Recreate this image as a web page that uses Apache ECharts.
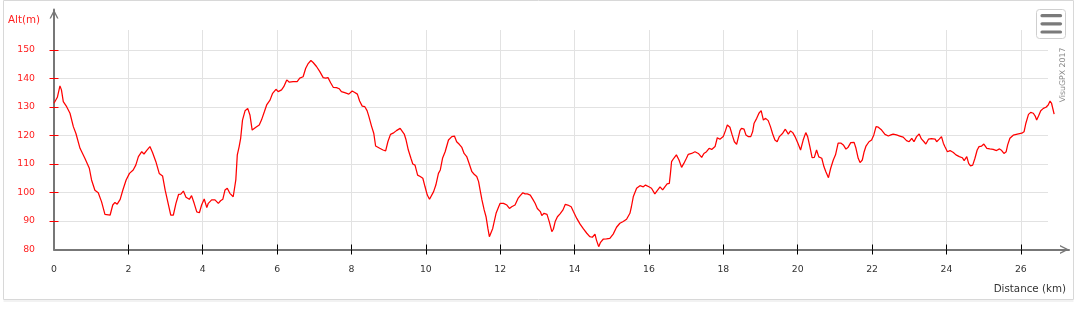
<!DOCTYPE html>
<html><head><meta charset="utf-8">
<script src="https://cdn.jsdelivr.net/npm/echarts@6/dist/echarts.min.js"></script>
<style>html,body{margin:0;padding:0;background:#fff}#c{width:1083px;height:309px}</style>
</head><body><div id="c"></div>
<script>
const distKm = [0,0.05,0.09,0.16,0.2,0.25,0.34,0.43,0.52,0.59,0.7,0.83,0.95,1.01,1.1,1.19,1.28,1.37,1.51,1.58,1.64,1.7,1.78,1.85,1.94,2.03,2.13,2.2,2.27,2.36,2.42,2.49,2.58,2.65,2.74,2.83,2.92,2.99,3.08,3.14,3.21,3.28,3.35,3.41,3.48,3.55,3.64,3.7,3.77,3.84,3.91,3.97,4.04,4.11,4.15,4.24,4.33,4.42,4.48,4.54,4.6,4.66,4.73,4.82,4.85,4.89,4.93,4.98,5.02,5.07,5.14,5.21,5.27,5.33,5.38,5.43,5.52,5.58,5.66,5.72,5.81,5.88,5.97,6.03,6.12,6.18,6.26,6.33,6.43,6.54,6.61,6.7,6.77,6.83,6.91,6.97,7.06,7.15,7.24,7.31,7.37,7.44,7.51,7.6,7.67,7.73,7.82,7.93,8.02,8.09,8.16,8.22,8.29,8.36,8.42,8.47,8.54,8.6,8.65,8.76,8.85,8.92,8.98,9.05,9.12,9.21,9.31,9.35,9.42,9.47,9.53,9.6,9.65,9.71,9.78,9.85,9.92,9.98,10.04,10.1,10.15,10.21,10.27,10.34,10.39,10.45,10.52,10.61,10.7,10.77,10.83,10.9,10.97,11.03,11.1,11.17,11.24,11.3,11.37,11.42,11.46,11.51,11.57,11.62,11.67,11.71,11.76,11.8,11.84,11.89,11.96,12.0,12.09,12.18,12.25,12.31,12.4,12.48,12.54,12.61,12.67,12.73,12.81,12.88,12.94,13.0,13.08,13.12,13.18,13.26,13.32,13.39,13.43,13.48,13.54,13.61,13.69,13.75,13.82,13.91,13.97,14.06,14.15,14.24,14.33,14.41,14.48,14.55,14.59,14.65,14.7,14.77,14.86,14.95,15.04,15.13,15.22,15.31,15.4,15.49,15.53,15.58,15.67,15.76,15.85,15.91,16.0,16.07,16.16,16.22,16.3,16.37,16.43,16.49,16.55,16.58,16.61,16.67,16.74,16.81,16.88,16.94,17.01,17.06,17.15,17.24,17.33,17.42,17.48,17.55,17.62,17.69,17.78,17.84,17.91,18.0,18.06,18.11,18.18,18.24,18.3,18.36,18.4,18.45,18.49,18.56,18.61,18.67,18.74,18.79,18.83,18.9,18.96,19.02,19.08,19.14,19.21,19.27,19.33,19.39,19.45,19.51,19.6,19.67,19.75,19.81,19.87,19.93,20.0,20.08,20.15,20.22,20.27,20.33,20.39,20.45,20.51,20.57,20.65,20.71,20.76,20.83,20.89,20.96,21.02,21.09,21.17,21.23,21.3,21.36,21.43,21.52,21.57,21.63,21.68,21.74,21.79,21.84,21.92,21.99,22.05,22.11,22.17,22.26,22.35,22.44,22.51,22.57,22.66,22.75,22.84,22.93,23.0,23.07,23.13,23.2,23.27,23.33,23.4,23.45,23.52,23.6,23.7,23.74,23.81,23.87,23.92,23.96,24.03,24.1,24.19,24.26,24.35,24.43,24.48,24.55,24.6,24.65,24.71,24.77,24.83,24.88,24.95,25.01,25.09,25.17,25.26,25.35,25.43,25.49,25.55,25.61,25.65,25.71,25.8,25.91,26.03,26.09,26.14,26.21,26.27,26.34,26.39,26.43,26.48,26.54,26.61,26.68,26.74,26.79,26.83,26.9];
const altM = [131.3,131,133.4,137.4,136,131.9,130.1,127.8,123.1,120.7,115.5,112,108.5,104.4,100.8,99.9,96.7,92.3,92.1,95.6,96.5,95.9,97.6,100.8,104.4,106.7,107.9,109.6,112.6,114.3,113.5,114.7,116.1,114,110.8,106.7,105.8,100.8,95.6,92.1,92.1,96.2,99.3,99.4,100.5,98.3,97.6,98.9,96.2,93.2,92.9,95.6,97.7,94.7,96.2,97.4,97.4,96.2,97.1,97.6,100.9,101.5,99.7,98.5,98.3,104.4,113.2,116.1,119,125.4,128.7,129.5,127.2,121.9,121.7,122.9,123.7,125.4,128.4,130.7,132.4,134.8,136.2,135.4,136,137.1,139.5,138.7,138.9,138.9,140.1,140.6,143.6,145.1,146.3,145.6,144.2,142.4,140.3,140.1,140.3,138.5,136.9,136.8,136.4,135.4,135,134.5,135.6,135.1,134.5,132.1,130.3,130.1,128.7,126.6,123.3,120.8,116.3,115.5,114.9,114.6,117.8,120.4,120.8,121.7,122.5,121.9,120.5,118.4,114.9,112,110,109.6,106.1,105.6,105,102,99.1,97.6,97.1,100.3,102.6,106.7,107.9,112,114.3,118.4,119.6,119.8,117.8,116.9,115.8,113.7,112.6,110,107.3,106.4,105.6,103.8,100.9,97.4,93.9,91.5,87.4,84.5,84.7,87.4,89.8,92.7,95,96.2,96.2,95.6,94.4,95,95.6,97.9,98.9,99.9,99.5,99.5,99.1,97.6,96.2,94.4,93.3,91.9,92.7,92.3,89.8,86.3,87.1,89.8,91.5,92.5,93.9,95.8,95.6,95,93.3,90.9,88.9,87.2,85.7,84.5,84.3,85.4,83.3,81,82.5,83.6,83.7,83.9,85.4,87.8,89.2,89.8,90.6,92.7,95,98.5,101.5,102.4,102,102.6,102,101.5,99.5,100.6,102,100.9,102,103,103.2,106.7,110.8,112,113.2,111.4,108.8,110.2,112,113.4,113.7,114.3,113.7,112.3,113.7,114.3,115.5,115.1,116.1,119.2,118.7,119.6,121.7,123.7,122.9,120.2,117.8,116.9,119,121.7,122.5,122.2,120.2,119.6,119.6,121.3,124.3,126,127.8,128.7,125.4,126,125.2,123.1,120.5,118.4,117.8,119.6,120.8,122.2,120.5,121.6,121,119.6,117.5,114.9,118.4,121,119.6,116.1,112.2,112.3,114.9,112.5,112,109,107.3,105.2,108.5,111.4,113.2,117.3,117.3,116.7,115.2,115.9,117.5,117.6,115.5,112,110.5,111.4,114.3,116.3,117.8,118.4,120.2,123.1,122.9,121.9,120.4,119.8,120.2,120.5,120.2,119.8,119.4,118.2,117.8,119,117.8,119.6,120.5,118.8,117.8,117,118.7,118.9,118.7,117.8,118.7,119.6,117.3,116.1,114.3,114.7,114,113.2,112.6,112.2,111.2,112.6,110.2,109.3,109.6,112,114.9,116.1,116.3,117,115.5,115.3,115.1,114.7,115.3,114.7,113.7,114.3,116.7,119,120.1,120.5,120.8,121.3,124.3,127.4,128.1,127.8,126.8,125.4,126.8,128.7,129.5,129.9,130.7,132.1,131.3,127.5];
const xTickValues = [2,4,6,8,10,12,14,16,18,20,22,24,26];
const xLabelValues = [0,2,4,6,8,10,12,14,16,18,20,22,24,26];
const yTickValues = [90,100,110,120,130,140,150];
const yLabelValues = [80,90,100,110,120,130,140,150];
const yTitle = 'Alt(m)';
const xTitle = 'Distance (km)';
const credit = 'VisuGPX 2017';

const FONT = 'DejaVu Sans';
const PX_PER_KM = 37.18, LEFT = 54;
const X_MAX = 26.73, X_MAX_LINE = 27.0, Y_MIN = 80, Y_MAX = 157;
const ARROW = 'path://M0,10 L5,0 L10,10 L8.4,10 L5,3.2 L1.6,10 Z';
const chart = echarts.init(document.getElementById('c'), null, {renderer: 'canvas'});
const points = distKm.map((d, i) => [d, altM[i]]);

const baseX = {type: 'value', gridIndex: 0, position: 'bottom', min: 0, max: X_MAX, interval: 2,
  axisLine: {show: false, onZero: false}};
const baseY = {type: 'value', gridIndex: 0, position: 'left', min: Y_MIN, max: Y_MAX, interval: 10,
  axisLine: {show: false, onZero: false}};
const hidden = {axisLine: {show: false}, axisTick: {show: false}, axisLabel: {show: false}, splitLine: {show: false}};

chart.setOption({
  animation: false,
  title: [
    {text: yTitle, left: 8, top: 15.5, padding: 0, textStyle: {color: '#ff2020', fontSize: 10.3, fontWeight: 'normal', fontFamily: FONT}},
    {text: xTitle, right: 17, top: 284.5, padding: 0, textStyle: {color: '#333', fontSize: 10.3, fontWeight: 'normal', fontFamily: FONT}}
  ],
  grid: [
    {left: LEFT, top: 30, right: 35, bottom: 59.5, show: false},
    {left: LEFT, top: 9.5, right: 14, bottom: 59.5, show: false},
    {left: LEFT, top: 30, right: 1083 - LEFT - X_MAX_LINE * PX_PER_KM, bottom: 59.5, show: false}
  ],
  xAxis: [
    Object.assign({}, baseX, {
      axisTick: {show: true, length: 5, customValues: xTickValues, lineStyle: {color: '#000'}},
      axisLabel: {customValues: xLabelValues, margin: 16, color: '#333', fontSize: 9.3, fontFamily: FONT},
      splitLine: {show: true, lineStyle: {color: '#e2e2e2', width: 1}}
    }),
    Object.assign({}, baseX, {
      axisTick: {show: true, inside: true, length: 5, customValues: xTickValues, lineStyle: {color: '#000'}},
      axisLabel: {show: false}, splitLine: {show: false}
    }),
    {type: 'value', gridIndex: 1, position: 'bottom', min: 0, max: 1,
      axisLine: {show: true, onZero: false, symbol: ['none', ARROW], symbolSize: [10, 9], symbolOffset: [0, -4.5], lineStyle: {color: '#777', width: 2}},
      axisTick: {show: false}, axisLabel: {show: false}, splitLine: {show: false}},
    Object.assign({type: 'value', gridIndex: 2, position: 'bottom', min: 0, max: X_MAX_LINE}, hidden)
  ],
  yAxis: [
    Object.assign({}, baseY, {
      axisTick: {show: true, length: 4.5, customValues: yTickValues, lineStyle: {color: '#f00'}},
      axisLabel: {customValues: yLabelValues, margin: 19, color: '#ff2020', fontSize: 9.3, fontFamily: FONT},
      splitLine: {show: true, lineStyle: {color: '#e2e2e2', width: 1}}
    }),
    Object.assign({}, baseY, {
      axisTick: {show: true, inside: true, length: 4.5, customValues: yTickValues, lineStyle: {color: '#f00'}},
      axisLabel: {show: false}, splitLine: {show: false}
    }),
    {type: 'value', gridIndex: 1, position: 'left', min: 0, max: 1,
      axisLine: {show: true, onZero: false, symbol: ['none', ARROW], symbolSize: [10, 9], symbolOffset: [0, -4.5], lineStyle: {color: '#777', width: 2}},
      axisTick: {show: false}, axisLabel: {show: false}, splitLine: {show: false}},
    Object.assign({type: 'value', gridIndex: 2, position: 'left', min: Y_MIN, max: Y_MAX}, hidden)
  ],
  series: [{
    type: 'line', xAxisIndex: 3, yAxisIndex: 3, data: points, showSymbol: false,
    lineStyle: {color: '#ff0000', width: 1.25}, z: 5
  }],
  graphic: [
    {type: 'rect', silent: true, z: -10, shape: {x: 3.5, y: 0.5, width: 1070, height: 299},
      style: {fill: 'none', stroke: '#d8d8d8', lineWidth: 1}},
    {type: 'rect', silent: true, shape: {x: 3.5, y: 300.5, width: 1070, height: 1},
      style: {fill: '#e6e6e6'}},
    {type: 'rect', silent: true, shape: {x: 1036.5, y: 9.5, width: 29, height: 29, r: 3},
      style: {fill: '#fff', stroke: '#cfcfcf', lineWidth: 1}},
    {type: 'line', silent: true, shape: {x1: 1042, y1: 15.7, x2: 1060.5, y2: 15.7}, style: {stroke: '#7a7a7a', lineWidth: 3.2, lineCap: 'round'}},
    {type: 'line', silent: true, shape: {x1: 1042, y1: 23.8, x2: 1060.5, y2: 23.8}, style: {stroke: '#7a7a7a', lineWidth: 3.2, lineCap: 'round'}},
    {type: 'line', silent: true, shape: {x1: 1042, y1: 32, x2: 1060.5, y2: 32}, style: {stroke: '#7a7a7a', lineWidth: 3.2, lineCap: 'round'}},
    {type: 'text', silent: true, x: 1062.5, y: 75, rotation: Math.PI / 2,
      style: {text: credit, fill: '#888', fontSize: 7.8, fontFamily: FONT, align: 'center', verticalAlign: 'middle'}}
  ]
});
</script></body></html>
